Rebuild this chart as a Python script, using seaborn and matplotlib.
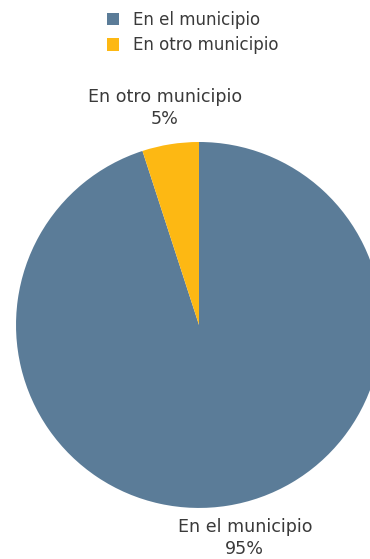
import numpy as np
import matplotlib
matplotlib.use("Agg")
import matplotlib.pyplot as plt
import seaborn as sns
from matplotlib.patches import Patch

sns.set_theme(style="white")
plt.rcParams["font.family"] = ["DejaVu Sans"]

categories = ["En el municipio", "En otro municipio"]
values = [95, 5]
colors = ["#5B7C98", "#FDB813"]
text_color = "#3A3A3A"

fig = plt.figure(figsize=(3.70, 5.59), dpi=100)
ax = fig.add_axes([0, 0, 1, 1])

wedges, texts = ax.pie(
    values,
    colors=colors,
    startangle=90,
    counterclock=False,
    labels=[f"{c}\n{v}%" for c, v in zip(categories, values)],
    labeldistance=1.2,
    wedgeprops=dict(linewidth=0, edgecolor="none"),
    textprops=dict(color=text_color, fontsize=12.6, ha="center", va="center",
                   linespacing=1.25),
)
for t in texts:
    t.set_ha("center")
# shift the large-slice label a little right and up, under the pie
x, y = texts[0].get_position()
texts[0].set_position((x + 0.063, y + 0.021))

ax.set_aspect("equal")
ax.set_xlim(-1.087, 0.934)
ax.set_ylim(-1.279, 1.776)
ax.axis("off")

handles = [Patch(facecolor=c, edgecolor="none") for c in colors]
leg = fig.legend(
    handles, categories, loc="upper center", bbox_to_anchor=(0.52, 1.0),
    frameon=False, fontsize=12, handlelength=0.75, handleheight=0.75,
    handletextpad=0.8, labelspacing=0.45, borderaxespad=0.25,
)
for t in leg.get_texts():
    t.set_color(text_color)

fig.savefig("out.png", dpi=100)
